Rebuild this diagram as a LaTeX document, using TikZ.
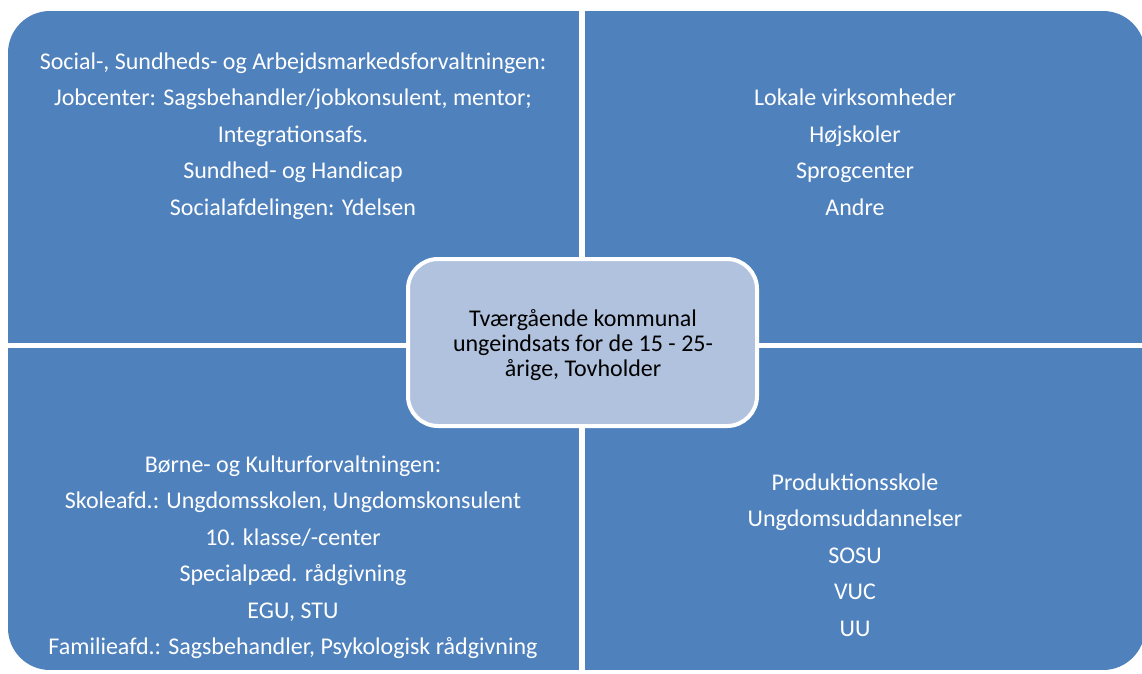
\documentclass[tikz,border=0pt]{standalone}
\usepackage{fontspec}
\setmainfont{Carlito}
\definecolor{quad}{HTML}{4F81BD}
\definecolor{centerfill}{HTML}{B1C2DE}
\begin{document}
\begin{tikzpicture}[x=1pt,y=-1pt,
  quadtext/.style={text=white,align=center,font=\fontsize{24}{36.5}\selectfont,inner sep=0pt},
  hubbox/.style={fill=centerfill,draw=white,line width=4pt,rounded corners=30pt}]
\useasboundingbox (0,0) rectangle (1142,673);
\fill[white] (0,0) rectangle (1142,673);
\begin{scope}
\clip[rounded corners=42pt] (8,11) rectangle (1145,670);
\fill[quad] (8,11) rectangle (579,343);
\fill[quad] (585,11) rectangle (1145,343);
\fill[quad] (8,348) rectangle (579,670);
\fill[quad] (585,348) rectangle (1145,670);
\end{scope}
\node[quadtext] (tl) at (293,136) {Social-, Sundheds- og Arbejdsmarkedsforvaltningen:\\Jobcenter: Sagsbehandler/jobkonsulent, mentor;\\Integrationsafs.\\Sundhed- og Handicap\\Socialafdelingen: Ydelsen};
\node[quadtext] (tr) at (855,152) {Lokale virksomheder\\Højskoler\\Sprogcenter\\Andre};
\node[quadtext] (bl) at (293,557) {Børne- og Kulturforvaltningen:\\Skoleafd.: Ungdomsskolen, Ungdomskonsulent\\10. klasse/-center\\Specialpæd. rådgivning\\EGU, STU\\Familieafd.: Sagsbehandler, Psykologisk rådgivning};
\node[quadtext] (br) at (855,555) {Produktionsskole\\Ungdomsuddannelser\\SOSU\\VUC\\UU};
\draw[hubbox] (408,259) rectangle (757,426);
\node[align=center,font=\fontsize{24}{25}\selectfont,inner sep=0pt] (hub) at (583,345) {Tværgående kommunal\\ungeindsats for de 15 - 25-\\årige, Tovholder};
\end{tikzpicture}
\end{document}
